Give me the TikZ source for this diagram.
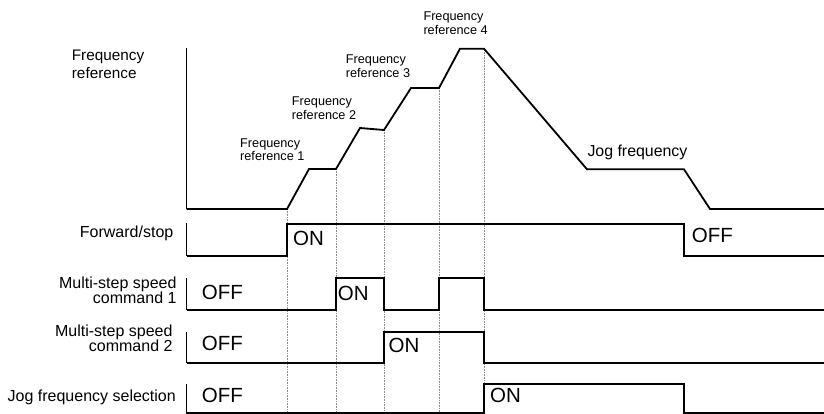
\documentclass[tikz,border=0pt]{standalone}
\usepackage{fontspec}
\setmainfont{Liberation Sans}
\usetikzlibrary{positioning}
\tikzset{
  sig/.style={line width=1.8pt, line join=miter},
  axisbar/.style={line width=0.9pt},
  guide/.style={densely dotted, black!45, line width=0.6pt},
  reflabel/.style={anchor=north west, inner sep=0pt, align=left,
                   font=\fontsize{12.7}{13.4}\selectfont},
  rowlabel/.style={anchor=north east, inner sep=0pt, align=right,
                   font=\fontsize{16}{15}\selectfont},
  state/.style={anchor=west, inner sep=0pt, font=\fontsize{20.5}{22}\selectfont},
}

\begin{document}
\begin{tikzpicture}[x=1pt, y=-1pt]
  \useasboundingbox (0,0) rectangle (824,414);

  % Guide lines at the switching instants
  \draw[guide] (287,209)  -- (287,414);
  \draw[guide] (336,169)  -- (336,414);
  \draw[guide] (384,130)  -- (384,414);
  \draw[guide] (439,88)   -- (439,414);
  \draw[guide] (484,48.7) -- (484,414);

  % Frequency reference
  \node[reflabel, font=\fontsize{15.3}{17.7}\selectfont] (freqlbl) at (71.7,50) {Frequency\\reference};
  \draw[axisbar] (186.5,48) -- (186.5,209);
  \draw[sig] (186.5,209) -- (287,209) -- (309,169) -- (336,169) -- (360,128)
    -- (384,130) -- (411,88) -- (439,88) -- (460,48.7) -- (484,48.7)
    -- (587,169.3) -- (684,169.3) -- (710,209) -- (824,209);
  \node[reflabel] (ref1) at (240,138.3)   {Frequency\\reference 1};
  \node[reflabel] (ref2) at (291.7,96.7)  {Frequency\\reference 2};
  \node[reflabel] (ref3) at (345.7,55)    {Frequency\\reference 3};
  \node[reflabel] (ref4) at (423.3,11.7)  {Frequency\\reference 4};
  \node[reflabel, font=\fontsize{15.9}{17}\selectfont] (jog) at (587.3,145) {Jog frequency};

  % Forward/stop
  \node[rowlabel] (fwdlbl) at (173.5,225.7) {Forward/stop};
  \draw[axisbar] (186.5,223) -- (186.5,256);
  \draw[sig] (186.5,256) -- (287,256) -- (287,224) -- (684,224) -- (684,256) -- (824,256);
  \node[state] (fwdon)  at (293,238)   {ON};
  \node[state] (fwdoff) at (691.7,235.7) {OFF};

  % Multi-step speed command 1
  \node[rowlabel] (ms1lbl) at (176.7,276.7) {Multi-step speed\\command 1};
  \draw[axisbar] (186.5,278) -- (186.5,310);
  \draw[sig] (186.5,310) -- (336,310) -- (336,278) -- (384,278) -- (384,310)
    -- (439,310) -- (439,278) -- (484,278) -- (484,310) -- (824,310);
  \node[state] (ms1off) at (201.7,292.5) {OFF};
  \node[state] (ms1on)  at (337.7,293.3) {ON};

  % Multi-step speed command 2
  \node[rowlabel] (ms2lbl) at (172.7,325) {Multi-step speed\\command 2};
  \draw[axisbar] (186.5,332) -- (186.5,363);
  \draw[sig] (186.5,363) -- (384,363) -- (384,332) -- (484,332) -- (484,363) -- (824,363);
  \node[state] (ms2off) at (201.7,343) {OFF};
  \node[state] (ms2on)  at (388.5,345) {ON};

  % Jog frequency selection
  \node[rowlabel] (joglbl) at (176,390) {Jog frequency selection};
  \draw[axisbar] (186.5,384) -- (186.5,414);
  \draw[sig] (186.5,413) -- (484,413) -- (484,384) -- (684,384) -- (684,413) -- (824,413);
  \node[state] (jogoff) at (201.7,395)   {OFF};
  \node[state] (jogon)  at (490,395.5)   {ON};
\end{tikzpicture}
\end{document}
